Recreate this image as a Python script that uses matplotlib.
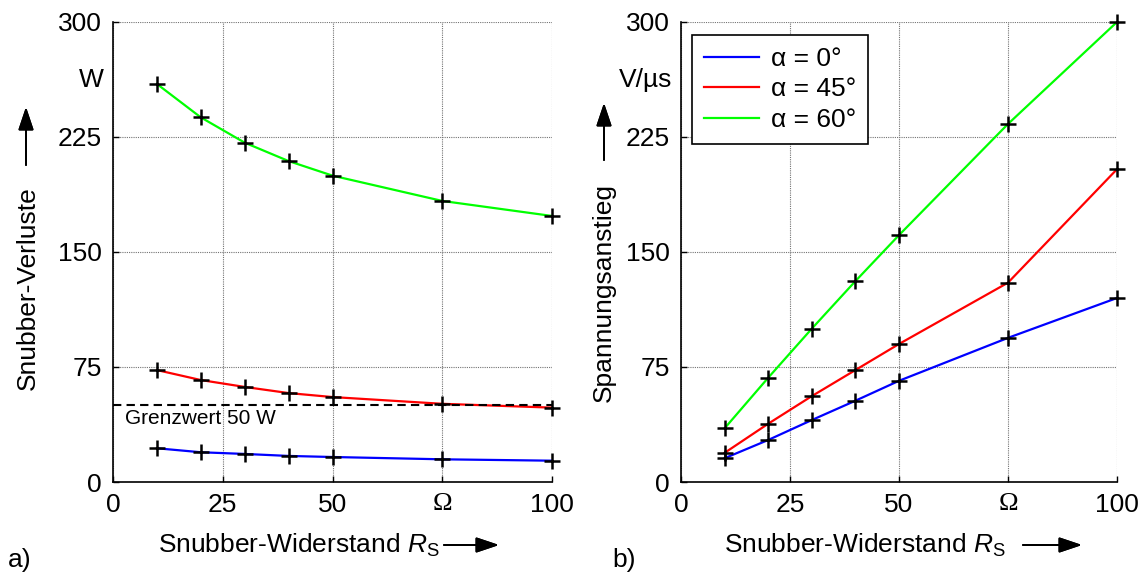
import numpy as np
import matplotlib.pyplot as plt

# Snubber resistance R_S in Ohm
r_s = [10, 20, 30, 40, 50, 75, 100]

# a) snubber losses in W
loss_0 = [22, 19.4, 18.3, 17, 16.3, 14.8, 13.9]
loss_45 = [73, 66.5, 62, 58, 55.4, 51, 48.5]
loss_60 = [259.6, 237.8, 221.3, 209.3, 199.8, 183.3, 173.5]
limit = 50

# b) voltage rise in V/us
rise_0 = [15.5, 27.4, 40.4, 53, 66, 94, 120]
rise_45 = [19, 38, 56, 73, 90, 130, 204]
rise_60 = [35, 68, 100, 131, 161, 233.5, 300]

xticks = [0, 25, 50, 75, 100]
xticklabels = ['0', '25', '50', 'Ω', '100']
yticks = [0, 75, 150, 225, 300]
legend_labels = ['α = 0°', 'α = 45°', 'α = 60°']
colors = ['#0000ff', '#ff0000', '#00ff00']

plt.rcParams['font.family'] = ['Liberation Sans', 'DejaVu Sans']
plt.rcParams['mathtext.fontset'] = 'custom'
plt.rcParams['mathtext.it'] = 'Liberation Sans:italic'
plt.rcParams['mathtext.rm'] = 'Liberation Sans'
fs = 19

W, H = 1143, 574
fig = plt.figure(figsize=(W / 100, H / 100), dpi=100)


def px(x0, y0, x1, y1):
    return [x0 / W, 1 - y1 / H, (x1 - x0) / W, (y1 - y0) / H]


ax1 = fig.add_axes(px(113, 22, 552, 482))
ax2 = fig.add_axes(px(681, 22, 1117, 482))


def style(ax, unit):
    ax.set_xlim(0, 100)
    ax.set_ylim(0, 300)
    ax.set_xticks(xticks)
    ax.set_xticklabels(xticklabels, fontsize=fs)
    ax.get_xticklabels()[3].set_family('Liberation Serif')
    ax.set_yticks(yticks)
    ax.set_yticklabels([str(t) for t in yticks], fontsize=fs)
    ax.tick_params(direction='in', length=4, width=1, pad=8)
    for s in ['top', 'right']:
        ax.spines[s].set_visible(False)
    for s in ['left', 'bottom']:
        ax.spines[s].set_linewidth(1.2)
    ax.grid(True, color='0.45', linestyle=(0, (1, 1)), linewidth=0.8)
    ax.set_axisbelow(True)
    ax.text(-0.02, 262, unit, transform=ax.get_yaxis_transform(),
            ha='right', va='center', fontsize=fs)


style(ax1, 'W')
style(ax2, 'V/µs')

for ys, c in zip([loss_0, loss_45, loss_60], colors):
    ax1.plot(r_s, ys, color=c, lw=1.6, zorder=3)
    ax1.plot(r_s, ys, '+', color='k', ms=12, mew=1.8, zorder=4, clip_on=False)
ax1.axhline(limit, color='k', lw=1.5, ls=(0, (4, 2.5)), zorder=3)
ax1.text(2.7, limit - 2.5, 'Grenzwert 50 W', fontsize=15, va='top', ha='left')

lines = []
for ys, c, lab in zip([rise_0, rise_45, rise_60], colors, legend_labels):
    l, = ax2.plot(r_s, ys, color=c, lw=1.6, zorder=3, label=lab)
    lines.append(l)
    ax2.plot(r_s, ys, '+', color='k', ms=12, mew=1.8, zorder=4, clip_on=False)
leg = ax2.legend(handles=lines, loc='upper left', bbox_to_anchor=(0.025, 0.972),
                 borderaxespad=0, fontsize=fs, frameon=True, fancybox=False,
                 edgecolor='k', framealpha=1, handlelength=2.1, borderpad=0.45,
                 labelspacing=0.25, handletextpad=0.45)
leg.get_frame().set_linewidth(1.2)

# axis labels with arrows
xlabel = 'Snubber-Widerstand $R_\\mathrm{S}$'
fig.text(158 / W, 1 - 545 / H, xlabel, fontsize=fs, ha='left', va='center')
fig.text(724 / W, 1 - 545 / H, xlabel, fontsize=fs, ha='left', va='center')
fig.text(28 / W, 1 - 288 / H, 'Snubber-Verluste', fontsize=fs, rotation=90,
         ha='center', va='center')
fig.text(604 / W, 1 - 292 / H, 'Spannungsanstieg', fontsize=fs, rotation=90,
         ha='center', va='center')

arr = dict(arrowstyle='-|>,head_length=1.4,head_width=0.47', color='k', lw=1.4,
           shrinkA=0, shrinkB=0)
for (x0, y0, x1, y1) in [(444, 545, 499, 545), (1023, 545, 1082, 545),
                         (26, 165, 26, 107), (604, 160, 604, 103)]:
    fig.add_artist(plt.annotate('', xy=(x1 / W, 1 - y1 / H), xytext=(x0 / W, 1 - y0 / H),
                                xycoords='figure fraction', textcoords='figure fraction',
                                arrowprops=arr))

fig.text(8 / W, 1 - 560 / H, 'a)', fontsize=fs, ha='left', va='center')
fig.text(612 / W, 1 - 560 / H, 'b)', fontsize=fs, ha='left', va='center')

fig.savefig('out.png', dpi=100)
